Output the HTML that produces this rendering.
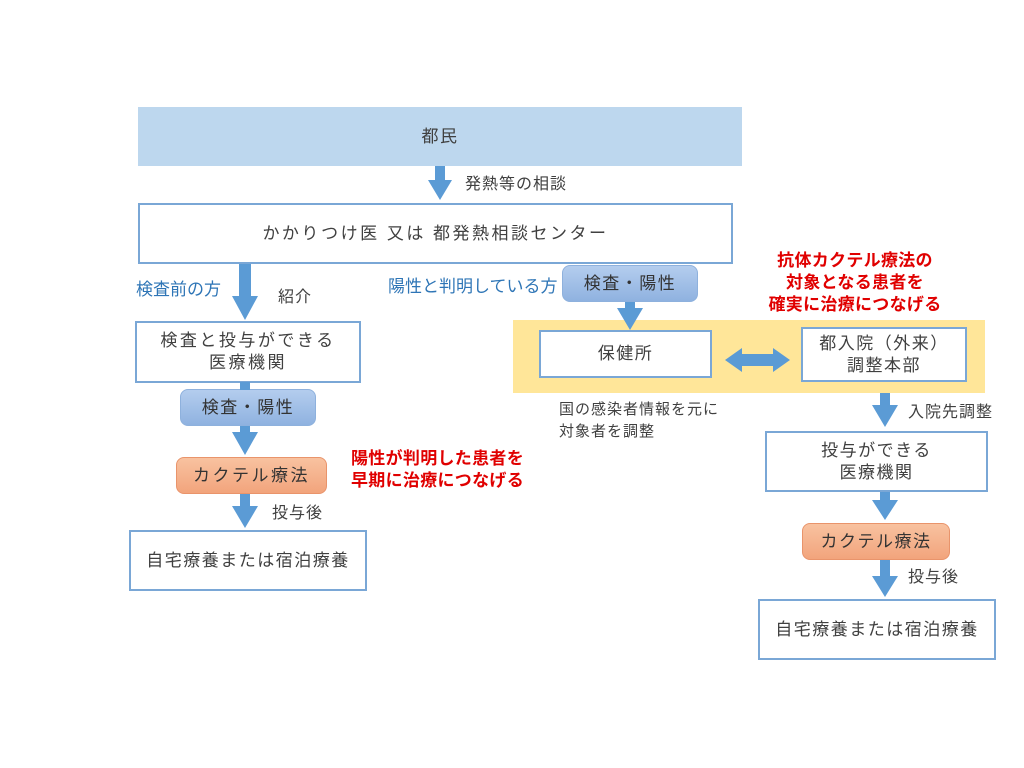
<!DOCTYPE html>
<html><head><meta charset="utf-8"><style>
body{margin:0;width:1024px;height:768px;background:#fff;position:relative;overflow:hidden;font-family:"Liberation Sans","Noto Sans CJK JP",sans-serif;color:#404040}
.a{position:absolute;box-sizing:border-box;display:flex;align-items:center;justify-content:center;text-align:center;font-size:17px;line-height:22px;letter-spacing:1.5px}
.w{background:#fff;border:2px solid #7aa7d6}
.p{border:1px solid #8eb1dd;border-radius:8px;background:linear-gradient(#b4cdee,#8fb2e0);color:#333}
.o{border:1px solid #e9946b;border-radius:8px;background:linear-gradient(#f8c2a0,#f2a47c);color:#333}
.t{position:absolute;font-size:16px;white-space:nowrap;line-height:22px;letter-spacing:1px}
.b{color:#2e75b6;letter-spacing:0}
.r{color:#e00000;font-weight:bold;font-size:17px;text-align:center;line-height:22px;letter-spacing:0.3px}
svg{position:absolute;left:0;top:0}
</style></head><body>
<div class="a" style="left:138px;top:107px;width:604px;height:59px;background:#bdd7ee">都民</div>
<div class="a w" style="left:138px;top:203px;width:595px;height:61px;letter-spacing:2.5px">かかりつけ医 又は 都発熱相談センター</div>
<div class="t" style="left:465px;top:174px">発熱等の相談</div>
<div class="t b" style="left:136px;top:279px;font-size:17px">検査前の方</div>
<div class="t" style="left:278px;top:287px">紹介</div>
<div class="a w" style="left:135px;top:321px;width:226px;height:62px;letter-spacing:2.5px">検査と投与ができる<br>医療機関</div>
<div class="a p" style="left:180px;top:389px;width:136px;height:37px">検査・陽性</div>
<div class="a o" style="left:176px;top:457px;width:151px;height:37px;letter-spacing:2.5px">カクテル療法</div>
<div class="t" style="left:272px;top:503px">投与後</div>
<div class="a w" style="left:129px;top:530px;width:238px;height:61px">自宅療養または宿泊療養</div>
<div class="t r" style="left:340px;top:448px;width:195px">陽性が判明した患者を<br>早期に治療につなげる</div>

<div class="t b" style="left:388px;top:276px;font-size:17px">陽性と判明している方</div>
<div class="a p" style="left:562px;top:265px;width:136px;height:37px">検査・陽性</div>
<div style="position:absolute;left:513px;top:320px;width:472px;height:73px;background:#ffe699"></div>
<div class="a w" style="left:539px;top:330px;width:173px;height:48px">保健所</div>
<div class="a w" style="left:801px;top:327px;width:166px;height:55px">都入院（外来）<br>調整本部</div>
<div class="t r" style="left:745px;top:250px;width:220px">抗体カクテル療法の<br>対象となる患者を<br>確実に治療につなげる</div>
<div class="t" style="left:559px;top:399px;font-size:15px">国の感染者情報を元に<br>対象者を調整</div>
<div class="t" style="left:908px;top:402px">入院先調整</div>
<div class="a w" style="left:765px;top:431px;width:223px;height:61px">投与ができる<br>医療機関</div>
<div class="a o" style="left:802px;top:523px;width:148px;height:37px">カクテル療法</div>
<div class="t" style="left:908px;top:567px">投与後</div>
<div class="a w" style="left:758px;top:599px;width:238px;height:61px">自宅療養または宿泊療養</div>

<svg width="1024" height="768" fill="#5b9bd5">
<polygon points="435,166 445,166 445,180 452,180 440,200 428,180 435,180"/>
<polygon points="239,264 251,264 251,296 258,296 245,320 232,296 239,296"/>
<rect x="240" y="382" width="10" height="8"/>
<polygon points="240,426 250,426 250,432 258,432 245,455 232,432 240,432"/>
<polygon points="240,494 250,494 250,506 258,506 245,528 232,506 240,506"/>
<polygon points="625,302 635,302 635,308 643,308 630,330 617,308 625,308"/>
<polygon points="725,360 742,348 742,354 773,354 773,348 790,360 773,372 773,366 742,366 742,372"/>
<polygon points="880,393 890,393 890,405 898,405 885,427 872,405 880,405"/>
<polygon points="880,492 890,492 890,500 898,500 885,520 872,500 880,500"/>
<polygon points="880,560 890,560 890,576 898,576 885,597 872,576 880,576"/>
</svg>
</body></html>
